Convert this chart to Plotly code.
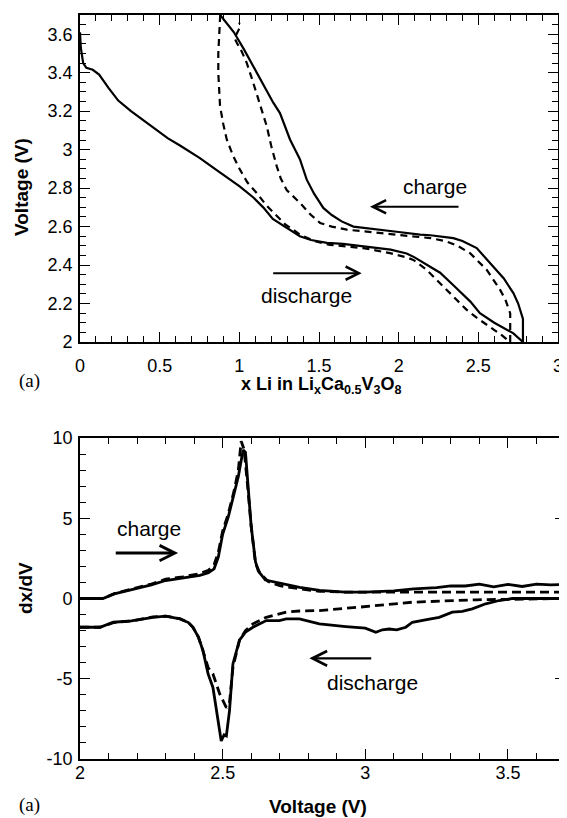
import plotly.graph_objects as go

# The page body adds an 8px margin, so the figure is sized to the remaining window area.
OFF = 8
W, H = 567 - OFF, 818 - OFF

# ---------------- Top panel: Voltage vs x Li ----------------
dis1_x = [0.0, 0.005, 0.02, 0.04, 0.08, 0.12, 0.18, 0.24, 0.32, 0.40, 0.50, 0.55, 0.63, 0.75,
          0.88, 1.00, 1.09, 1.15, 1.21, 1.30, 1.38, 1.45, 1.55, 1.65, 1.80, 1.95, 2.05, 2.10,
          2.20, 2.26, 2.35, 2.45, 2.51, 2.60, 2.72, 2.78]
dis1_v = [3.61, 3.53, 3.45, 3.425, 3.415, 3.39, 3.32, 3.255, 3.20, 3.15, 3.09, 3.06, 3.02, 2.957,
          2.88, 2.81, 2.75, 2.70, 2.64, 2.59, 2.55, 2.53, 2.515, 2.51, 2.495, 2.48, 2.46, 2.44,
          2.39, 2.36, 2.29, 2.21, 2.15, 2.10, 2.045, 2.0]

chg1_x = [2.78, 2.78, 2.75, 2.72, 2.66, 2.595, 2.49, 2.40, 2.343, 2.20, 2.134, 2.00, 1.883, 1.80,
          1.716, 1.642, 1.58, 1.527, 1.47, 1.423, 1.38, 1.318, 1.255, 1.213, 1.15, 1.088, 1.03,
          0.966, 0.92, 0.88]
chg1_v = [2.0, 2.12, 2.20, 2.254, 2.33, 2.392, 2.488, 2.525, 2.54, 2.555, 2.558, 2.572, 2.584, 2.59,
          2.60, 2.627, 2.66, 2.697, 2.77, 2.844, 2.95, 3.053, 3.19, 3.244, 3.34, 3.435, 3.52,
          3.61, 3.66, 3.70]

dis2_x = [0.88, 0.872, 0.868, 0.868, 0.872, 0.879, 0.90, 0.921, 0.96, 1.004, 1.05, 1.109, 1.17,
          1.235, 1.29, 1.339, 1.381, 1.47, 1.569, 1.778, 1.946, 2.05, 2.092, 2.176, 2.30, 2.427,
          2.50, 2.574, 2.64, 2.70]
dis2_v = [3.70, 3.60, 3.50, 3.40, 3.30, 3.226, 3.13, 3.053, 2.97, 2.896, 2.83, 2.775, 2.71,
          2.653, 2.61, 2.584, 2.558, 2.525, 2.505, 2.488, 2.462, 2.44, 2.427, 2.375, 2.271, 2.167,
          2.12, 2.08, 2.04, 2.0]

chg2_x = [2.70, 2.70, 2.67, 2.637, 2.553, 2.448, 2.37, 2.30, 2.20, 2.092, 1.883, 1.674, 1.58,
          1.507, 1.45, 1.381, 1.297, 1.26, 1.235, 1.20, 1.172, 1.14, 1.109, 1.075, 1.046, 1.015,
          0.984, 0.97, 1.0, 1.0]
chg2_v = [2.0, 2.149, 2.22, 2.271, 2.375, 2.462, 2.50, 2.523, 2.54, 2.549, 2.566, 2.584, 2.60,
          2.619, 2.66, 2.723, 2.79, 2.85, 2.913, 3.02, 3.122, 3.21, 3.296, 3.38, 3.452, 3.51,
          3.556, 3.58, 3.63, 3.66]

top_xticks = [0, 0.5, 1, 1.5, 2, 2.5, 3]
top_xlabels = ["0", "0.5", "1", "1.5", "2", "2.5", "3"]
top_yticks = [2, 2.2, 2.4, 2.6, 2.8, 3, 3.2, 3.4, 3.6]
top_ylabels = ["2", "2.2", "2.4", "2.6", "2.8", "3", "3.2", "3.4", "3.6"]

# ---------------- Bottom panel: dx/dV vs Voltage ----------------
chgA_v = [2.0, 2.08, 2.12, 2.19, 2.25, 2.30, 2.36, 2.42, 2.45, 2.47, 2.485, 2.50, 2.52, 2.54,
          2.555, 2.565, 2.572, 2.58, 2.59, 2.60, 2.615, 2.625, 2.65, 2.70, 2.77, 2.84, 2.93, 3.0,
          3.1, 3.17, 3.25, 3.30, 3.35, 3.40, 3.45, 3.50, 3.55, 3.60, 3.65, 3.70]
chgA_d = [0, 0, 0.29, 0.6, 0.85, 1.12, 1.28, 1.44, 1.6, 1.85, 2.6, 4.0, 5.1, 6.5,
          7.6, 8.6, 9.25, 9.1, 7.0, 4.5, 2.3, 1.7, 1.15, 0.95, 0.7, 0.5, 0.4, 0.4,
          0.48, 0.6, 0.68, 0.78, 0.78, 0.9, 0.72, 0.88, 0.75, 0.9, 0.85, 0.88]

chgB_v = [2.0, 2.08, 2.12, 2.19, 2.25, 2.30, 2.36, 2.42, 2.45, 2.47, 2.485, 2.50, 2.52, 2.54,
          2.555, 2.565, 2.575, 2.585, 2.60, 2.615, 2.63, 2.66, 2.70, 2.77, 2.84, 2.93, 3.1, 3.3,
          3.5, 3.7]
chgB_d = [0, 0, 0.3, 0.62, 0.9, 1.2, 1.35, 1.55, 1.75, 2.1, 2.9, 4.2, 5.3, 6.7,
          8.0, 9.8, 9.3, 7.5, 4.5, 2.2, 1.6, 1.05, 0.8, 0.6, 0.45, 0.4, 0.4, 0.4,
          0.4, 0.4]

disA_v = [2.0, 2.07, 2.117, 2.18, 2.256, 2.30, 2.35, 2.38, 2.396, 2.415, 2.431, 2.449, 2.466,
          2.48, 2.495, 2.505, 2.513, 2.524, 2.536, 2.559, 2.58, 2.606, 2.653, 2.699, 2.723, 2.769,
          2.839, 2.932, 2.979, 3.0, 3.037, 3.06, 3.084, 3.11, 3.142, 3.165, 3.22, 3.259, 3.305,
          3.34, 3.375, 3.422, 3.469, 3.515, 3.6, 3.7]
disA_d = [-1.79, -1.79, -1.48, -1.4, -1.17, -1.1, -1.27, -1.5, -1.79, -2.4, -3.25, -4.7, -5.54,
          -7.2, -8.88, -8.5, -8.56, -7.0, -4.08, -2.6, -2.1, -1.79, -1.375, -1.375, -1.27, -1.27,
          -1.58, -1.75, -1.79, -1.85, -2.1, -1.95, -1.9, -1.95, -1.79, -1.48, -1.3, -1.17, -0.85,
          -0.8, -0.65, -0.33, -0.125, 0.0, 0.0, 0.0]

disB_v = [2.0, 2.07, 2.117, 2.18, 2.256, 2.30, 2.35, 2.38, 2.396, 2.415, 2.431, 2.449, 2.466,
          2.49, 2.513, 2.524, 2.536, 2.559, 2.58, 2.606, 2.653, 2.699, 2.723, 2.77, 2.839, 2.979,
          3.165, 3.39, 3.55, 3.7]
disB_d = [-1.79, -1.79, -1.5, -1.4, -1.15, -1.1, -1.25, -1.5, -1.8, -2.4, -3.25, -4.3, -4.7,
          -5.96, -6.8, -6.5, -4.3, -2.6, -2.0, -1.58, -1.17, -0.96, -0.85, -0.78, -0.75, -0.54,
          -0.23, -0.08, -0.02, 0.0]

bot_xticks = [2, 2.5, 3, 3.5]
bot_xlabels = ["2", "2.5", "3", "3.5"]
bot_yticks = [-10, -5, 0, 5, 10]
bot_ylabels = ["-10", "-5", "0", "5", "10"]

BLACK = "black"
SANS = "Liberation Sans, Arial, Helvetica, sans-serif"
SERIF = "Liberation Serif, Times New Roman, serif"

fig = go.Figure()

def add(x, y, xa, ya, width, dash=None):
    fig.add_trace(go.Scatter(x=x, y=y, mode="lines", xaxis=xa, yaxis=ya, showlegend=False,
                             line=dict(color=BLACK, width=width, dash=dash)))

add(dis1_x, dis1_v, "x", "y", 2.2)
add(chg1_x, chg1_v, "x", "y", 2.2)
add(dis2_x, dis2_v, "x", "y", 2.2, "7px,5px")
add(chg2_x, chg2_v, "x", "y", 2.2, "7px,5px")

add(chgB_v, chgB_d, "x2", "y2", 2.8, "9px,5px")
add(disB_v, disB_d, "x2", "y2", 2.8, "9px,5px")
add(chgA_v, chgA_d, "x2", "y2", 2.8)
add(disA_v, disA_d, "x2", "y2", 2.8)

def px(v):
    return (v - OFF) / W

def py(v):
    return 1 - (v - OFF) / H

def axis(domain, rng, tickvals, ticktext, mdtick, anchor, tick0, standoff):
    return dict(domain=domain, range=rng, anchor=anchor, tickmode="array",
                tickvals=tickvals, ticktext=ticktext, automargin=False,
                showline=True, linecolor=BLACK, linewidth=1.6, mirror="allticks",
                ticks="inside", ticklen=10, tickwidth=1.4, tickcolor=BLACK,
                minor=dict(dtick=mdtick, tick0=tick0, ticks="inside", ticklen=6,
                           tickwidth=1.2, tickcolor=BLACK, showgrid=False),
                showgrid=False, zeroline=False, ticklabelstandoff=standoff,
                tickfont=dict(family=SANS, size=18, color=BLACK))

xa1 = axis([px(80), px(558)], [0, 3], top_xticks, top_xlabels, 0.1, "y", 0, 7)
ya1 = axis([py(342), py(15)], [2, 3.7], top_yticks, top_ylabels, 0.05, "x", 2, 2)
xa2 = axis([px(80), px(565)], [2, 3.7], bot_xticks, bot_xlabels, 0.1, "y2", 2, -3)
ya2 = axis([py(759), py(438)], [-10, 10], bot_yticks, bot_ylabels, 1, "x2", 0, 2)

annotations = []

def label(text, x, y, size, family=SANS, angle=0, bold=False):
    annotations.append(dict(text=("<b>%s</b>" % text) if bold else text, x=px(x), y=py(y),
                            xref="paper", yref="paper", showarrow=False, textangle=angle,
                            xanchor="center", yanchor="middle",
                            font=dict(family=family, size=size, color=BLACK)))

label("x Li in Li<sub>x</sub>Ca<sub>0.5</sub>V<sub>3</sub>O<sub>8</sub>", 321, 385, 18, bold=True)
label("Voltage (V)", 21, 187, 19, angle=-90, bold=True)
label("(a)", 29, 381, 19, family=SERIF)
label("dx/dV", 25, 588, 19, angle=-90, bold=True)
label("Voltage (V)", 318, 806, 19, bold=True)
label("(a)", 29, 805, 19, family=SERIF)

def text_d(text, x, y, xr, yr):
    annotations.append(dict(text=text, x=x, y=y, xref=xr, yref=yr, showarrow=False,
                            xanchor="center", yanchor="middle",
                            font=dict(family=SANS, size=21, color=BLACK)))

def arrow(x0, y0, x1, y1, xr, yr, w):
    annotations.append(dict(text="", x=x1, y=y1, ax=x0, ay=y0, xref=xr, yref=yr,
                            axref=xr, ayref=yr, showarrow=True, arrowhead=5,
                            arrowsize=1.3 if w < 2.5 else 1.0, arrowwidth=w,
                            arrowcolor=BLACK))

text_d("charge", 2.228, 2.81, "x", "y")
arrow(2.385, 2.703, 1.82, 2.703, "x", "y", 2.0)
text_d("discharge", 1.419, 2.24, "x", "y")
arrow(1.203, 2.358, 1.768, 2.358, "x", "y", 2.0)

text_d("charge", 2.241, 4.35, "x2", "y2")
arrow(2.12, 2.83, 2.344, 2.83, "x2", "y2", 3.0)
text_d("discharge", 3.024, -5.25, "x2", "y2")
arrow(3.026, -3.73, 2.804, -3.73, "x2", "y2", 2.2)

fig.update_layout(width=W, height=H, margin=dict(l=0, r=0, t=0, b=0, autoexpand=False),
                  paper_bgcolor="white", plot_bgcolor="white",
                  xaxis=xa1, yaxis=ya1, xaxis2=xa2, yaxis2=ya2,
                  annotations=annotations, showlegend=False)

fig.write_html("out.html")
